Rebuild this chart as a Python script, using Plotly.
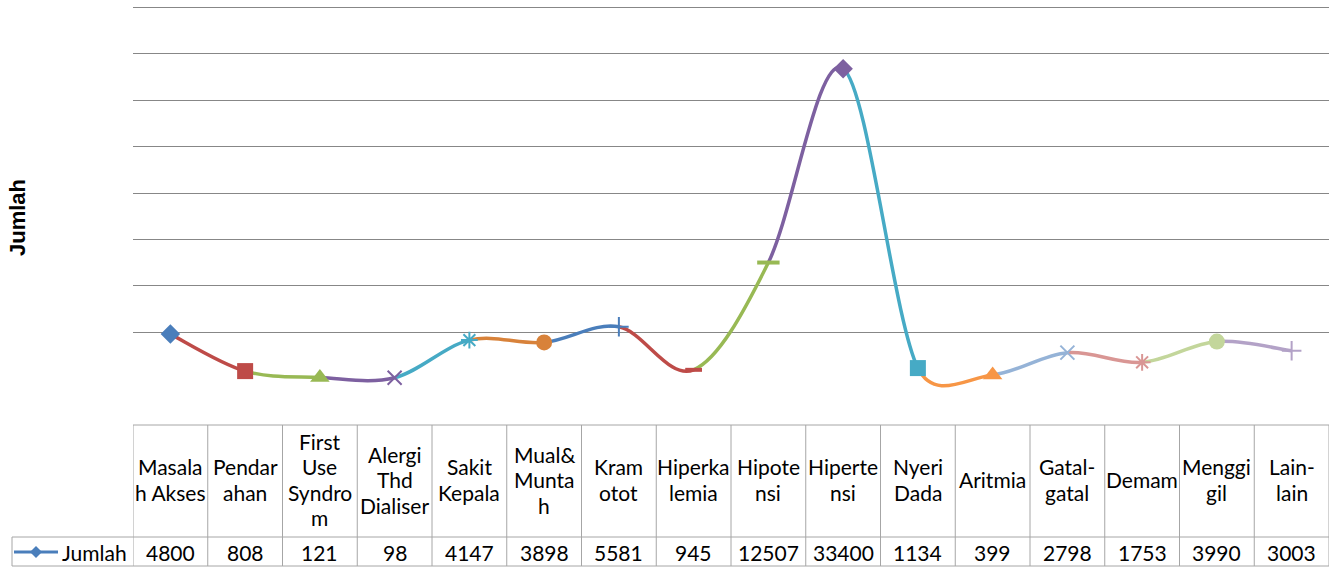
import math
import plotly.graph_objects as go

# Complaint categories, split into the lines shown in the data-table header
categories = [
    "Masala<br>h Akses", "Pendar<br>ahan", "First<br>Use<br>Syndro<br>m",
    "Alergi<br>Thd<br>Dialiser", "Sakit<br>Kepala", "Mual&<br>Munta<br>h",
    "Kram<br>otot", "Hiperka<br>lemia", "Hipote<br>nsi", "Hiperte<br>nsi",
    "Nyeri<br>Dada", "Aritmia", "Gatal-<br>gatal", "Demam", "Menggi<br>gil",
    "Lain-<br>lain",
]
values = [4800, 808, 121, 98, 4147, 3898, 5581, 945, 12507, 33400,
          1134, 399, 2798, 1753, 3990, 3003]
series_name = "Jumlah"
axis_title = "Jumlah"

# Per-point colours and marker shapes (vary colours by point)
point_colors = [
    "#4A7EBB", "#BE4B48", "#98B954", "#7D60A0", "#46AAC5", "#D8823A",
    "#4A7EBB", "#BE4B48", "#98B954", "#7D60A0", "#46AAC5", "#F79646",
    "#95B3D7", "#D99694", "#C3D69B", "#B3A2C7",
]
marker_symbols = [
    "diamond", "square", "triangle-up", "x-thin", "asterisk", "circle",
    "cross-thin", "line-ew", "line-ew", "diamond", "square", "triangle-up",
    "x-thin", "asterisk", "circle", "cross-thin",
]
marker_sizes = [15, 16, 17, 14, 14, 16, 14, 12, 16, 15, 16, 17, 14, 14, 16, 14]
marker_line_widths = [0, 0, 0, 2, 2, 0, 2, 4, 4, 0, 0, 0, 2, 2, 0, 2]

FONT = "Lato"
TITLE_FONT = "Liberation Sans"
GRID = "#878787"
BORDER = "#A6A6A6"
Y_RANGE = [-5000, 40800]

# Figure geometry (pixels)
W, H = 1333, 569
PLOT_L, PLOT_R, PLOT_H = 133, 4, 425
PLOT_W = W - PLOT_L - PLOT_R
PX_TOP, PX_MID, PX_BOT, PX_LEFT = 425, 537, 566, 12
LINE_GAP = 25.5

n = len(values)
xs = list(range(n))

# pixel scale of each axis, used to shape the smoothing in screen space
sx = PLOT_W / n
sy = PLOT_H / (Y_RANGE[1] - Y_RANGE[0])


def py(px):
    return (PLOT_H - px) / PLOT_H


def pxx(px):
    return (px - PLOT_L) / PLOT_W


def seg_len(a, b):
    return math.hypot((xs[b] - xs[a]) * sx, (values[b] - values[a]) * sy)


def tangent(i, toward):
    """Control-point offset (data units) at point i, toward neighbour."""
    a, b = max(i - 1, 0), min(i + 1, n - 1)
    tx = (xs[b] - xs[a]) / 6
    ty = (values[b] - values[a]) / 6
    length = math.hypot(tx * sx, ty * sy)
    limit = seg_len(i, toward) / 2
    if length > limit > 0:
        tx, ty = tx * limit / length, ty * limit / length
    return tx, ty


fig = go.Figure()
shapes = []

# Smoothed line: one cubic Bezier per segment, coloured like its end point
for i in range(n - 1):
    t0 = tangent(i, i + 1)
    t1 = tangent(i + 1, i)
    x0, y0 = xs[i], values[i]
    x1, y1 = xs[i + 1], values[i + 1]
    path = (f"M {x0},{y0} C {x0 + t0[0]},{y0 + t0[1]} "
            f"{x1 - t1[0]},{y1 - t1[1]} {x1},{y1}")
    shapes.append(dict(type="path", path=path, xref="x", yref="y",
                       line=dict(color=point_colors[i + 1], width=3.5),
                       layer="between"))

fig.add_trace(go.Scatter(
    x=xs, y=values, mode="markers", showlegend=False, hoverinfo="skip",
    marker=dict(symbol=marker_symbols, size=marker_sizes, color=point_colors,
                opacity=1,
                line=dict(color=point_colors, width=marker_line_widths)),
))

# Data table grid
for i in range(n + 1):
    shapes.append(dict(type="line", xref="x", yref="paper",
                       x0=i - 0.5, x1=i - 0.5, y0=py(PX_TOP), y1=py(PX_BOT),
                       line=dict(color=BORDER, width=1)))
shapes.append(dict(type="line", xref="paper", yref="paper",
                   x0=pxx(PX_LEFT), x1=pxx(PX_LEFT), y0=py(PX_MID), y1=py(PX_BOT),
                   line=dict(color=BORDER, width=1)))
for ypix, x0 in [(PX_TOP, 0.0), (PX_MID, pxx(PX_LEFT)), (PX_BOT, pxx(PX_LEFT))]:
    shapes.append(dict(type="line", xref="paper", yref="paper",
                       x0=x0, x1=1.0, y0=py(ypix), y1=py(ypix),
                       line=dict(color=BORDER, width=1)))

# Legend key inside the value row
KEY_Y = (PX_MID + PX_BOT) / 2 + 0.5
shapes.append(dict(type="line", xref="paper", yref="paper",
                   x0=pxx(14), x1=pxx(58), y0=py(KEY_Y), y1=py(KEY_Y),
                   line=dict(color=point_colors[0], width=3)))
shapes.append(dict(type="path", xref="paper", yref="paper",
                   xsizemode="pixel", ysizemode="pixel",
                   xanchor=pxx(36), yanchor=py(KEY_Y),
                   path="M -6,0 L 0,6 L 6,0 L 0,-6 Z",
                   fillcolor=point_colors[0], line=dict(width=0)))

annotations = []
cell_font = dict(family=FONT, size=21, color="#000000")
header_mid = (PX_TOP + PX_MID) / 2 - 1.5
for i, cat in enumerate(categories):
    lines = cat.split("<br>")
    for k, line in enumerate(lines):
        ypix = header_mid + (k - (len(lines) - 1) / 2) * LINE_GAP
        annotations.append(dict(x=i, y=py(ypix), xref="x", yref="paper",
                                text=line, showarrow=False,
                                xanchor="center", yanchor="middle",
                                font=cell_font))
for i, v in enumerate(values):
    annotations.append(dict(x=i, y=py(KEY_Y), xref="x", yref="paper",
                            text=str(v), showarrow=False,
                            xanchor="center", yanchor="middle",
                            font=cell_font))
annotations.append(dict(x=pxx(60), y=py(KEY_Y), xref="paper", yref="paper",
                        text=series_name, showarrow=False,
                        xanchor="left", yanchor="middle", font=cell_font))

annotations.append(dict(x=pxx(17), y=py(218), xref="paper", yref="paper",
                        text=f"<b>{axis_title}</b>", textangle=-90,
                        showarrow=False, xanchor="center", yanchor="middle",
                        font=dict(family=TITLE_FONT, size=22, color="#000000")))

fig.update_layout(
    width=W, height=H,
    margin=dict(l=PLOT_L, r=PLOT_R, t=0, b=H - PLOT_H, pad=0),
    paper_bgcolor="white", plot_bgcolor="white",
    shapes=shapes, annotations=annotations,
    showlegend=False,
    xaxis=dict(range=[-0.5, n - 0.5], showgrid=False, showticklabels=False,
               zeroline=False, showline=False, ticks=""),
    yaxis=dict(range=Y_RANGE, tickvals=list(range(5000, 40001, 5000)),
               showticklabels=False, showgrid=True, gridcolor=GRID,
               gridwidth=1, zeroline=False, showline=False, ticks=""),
)

fig.write_html("out.html")
